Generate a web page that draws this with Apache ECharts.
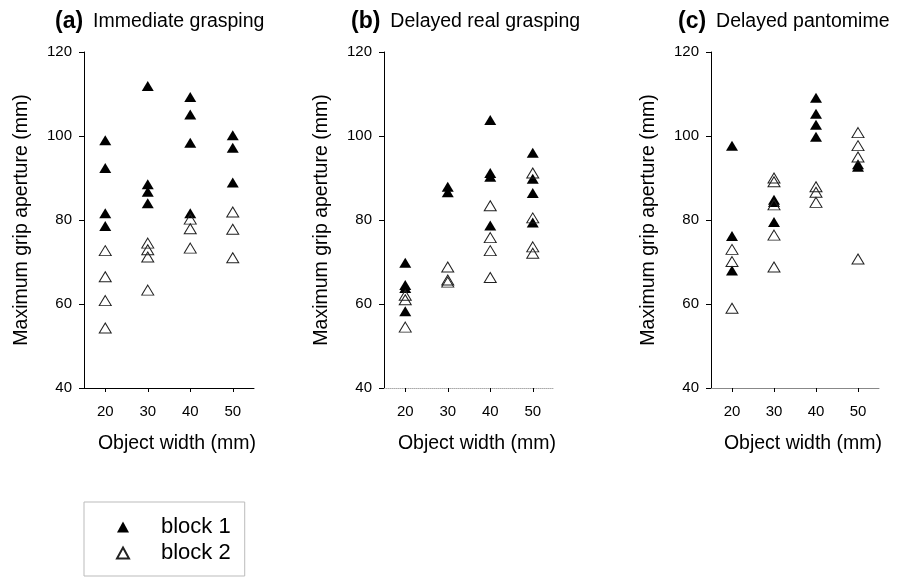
<!DOCTYPE html>
<html style="height: 100%">
<head>
    <meta charset="utf-8">
</head>
<body style="height: 100%; margin: 0; background: #fff">
<div id="container" style="width: 900px; height: 578px"></div>
<script type="text/javascript" src="https://cdn.jsdelivr.net/npm/echarts@6/dist/echarts.min.js"></script>
<script type="text/javascript">

    // object widths (mm) and tick values
    var widths = [20, 30, 40, 50];
    var yTicks = [40, 60, 80, 100, 120];

    var panelTitles = ['(a)', '(b)', '(c)'];
    var panelNames = ['Immediate grasping', 'Delayed real grasping', 'Delayed pantomime'];

    // [object width, max grip aperture]
    var immediateBlock1 = [
        [20, 99], [20, 92.4], [20, 81.6], [20, 78.6],
        [30, 111.9], [30, 88.5], [30, 86.7], [30, 84],
        [40, 109.3], [40, 105.1], [40, 98.4], [40, 81.6],
        [50, 100.2], [50, 97.2], [50, 88.9]
    ];
    var immediateBlock2 = [
        [20, 72.7], [20, 66.5], [20, 60.8], [20, 54.3],
        [30, 74.5], [30, 72.9], [30, 71.2], [30, 63.3],
        [40, 80.2], [40, 77.9], [40, 73.3],
        [50, 81.9], [50, 77.8], [50, 71]
    ];
    var delayedBlock1 = [
        [20, 69.8], [20, 64.5], [20, 63.8], [20, 58.3],
        [30, 87.9], [30, 86.6],
        [40, 103.8], [40, 91.2], [40, 90.3], [40, 78.7],
        [50, 96], [50, 89.8], [50, 86.4], [50, 79.4]
    ];
    var delayedBlock2 = [
        [20, 62.1], [20, 61], [20, 54.5],
        [30, 68.8], [30, 65.7], [30, 65.2],
        [40, 83.4], [40, 75.8], [40, 72.7], [40, 66.3],
        [50, 91.2], [50, 80.5], [50, 73.6], [50, 72.1]
    ];
    var pantomimeBlock1 = [
        [20, 97.7], [20, 76.2], [20, 68],
        [30, 84.8], [30, 84.3], [30, 79.5],
        [40, 109.1], [40, 105.3], [40, 102.7], [40, 99.8],
        [50, 93.3], [50, 92.7]
    ];
    var pantomimeBlock2 = [
        [20, 73], [20, 70.1], [20, 59],
        [30, 90], [30, 89.1], [30, 83.6], [30, 76.4], [30, 68.8],
        [40, 87.9], [40, 86.6], [40, 84.2],
        [50, 100.8], [50, 97.7], [50, 95], [50, 70.7]
    ];

    var block1 = [immediateBlock1, delayedBlock1, pantomimeBlock1];
    var block2 = [immediateBlock2, delayedBlock2, pantomimeBlock2];

    var dom = document.getElementById("container");
    var myChart = echarts.init(dom);
    var font = 'Liberation Sans, Arial, sans-serif';

    var grids = [
        {left: 84, top: 52, width: 170, height: 336},
        {left: 384, top: 52, width: 170, height: 336},
        {left: 711, top: 52, width: 168, height: 336}
    ];
    var titleLeft = [50, 346, 673];
    var xLineStyle = [
        {color: '#000', width: 1, type: 'solid'},
        {color: '#aaa', width: 1, type: 'dotted'},
        {color: '#888', width: 1, type: 'solid'}
    ];

    var xAxes = [], yAxes = [], titles = [], series = [];
    for (var i = 0; i < 3; i++) {
        titles.push({
            left: titleLeft[i],
            top: 5,
            text: '{b|' + panelTitles[i] + '}  {n|' + panelNames[i] + '}',
            textStyle: {
                fontWeight: 'normal',
                rich: {
                    b: {fontFamily: font, fontSize: 23, fontWeight: 'bold', color: '#000'},
                    n: {fontFamily: font, fontSize: 19.5, fontWeight: 'normal', color: '#000'}
                }
            }
        });
        xAxes.push({
            gridIndex: i,
            type: 'value',
            min: 15,
            max: 55,
            interval: 5,
            name: 'Object width (mm)',
            nameLocation: 'middle',
            nameGap: 46,
            nameTextStyle: {fontFamily: font, fontSize: 19.5, color: '#000', padding: [0, 0, 0, 16]},
            splitLine: {show: false},
            axisLine: {lineStyle: xLineStyle[i]},
            axisTick: {
                length: 4,
                lineStyle: {color: '#000'},
                customValues: widths
            },
            axisLabel: {
                margin: 16,
                fontFamily: font, fontSize: 15, color: '#000',
                customValues: widths
            }
        });
        yAxes.push({
            gridIndex: i,
            type: 'value',
            min: 40,
            max: 120,
            interval: 20,
            name: 'Maximum grip aperture (mm)',
            nameLocation: 'middle',
            nameGap: 52,
            nameTextStyle: {fontFamily: font, fontSize: 19.5, color: '#000'},
            splitLine: {show: false},
            axisLine: {lineStyle: {color: '#000', width: 1}},
            axisTick: {length: 5, lineStyle: {color: '#000'}, customValues: yTicks},
            axisLabel: {
                margin: 12,
                fontFamily: font, fontSize: 15, color: '#000',
                customValues: yTicks
            }
        });
        series.push({
            name: 'block 1',
            type: 'scatter',
            xAxisIndex: i,
            yAxisIndex: i,
            symbol: 'triangle',
            symbolSize: [12, 10],
            itemStyle: {color: '#000', opacity: 1},
            data: block1[i]
        });
        series.push({
            name: 'block 2',
            type: 'scatter',
            xAxisIndex: i,
            yAxisIndex: i,
            symbol: 'triangle',
            symbolSize: [12, 10],
            itemStyle: {color: 'rgba(255,255,255,0)', borderColor: '#222', borderWidth: 1, opacity: 1},
            data: block2[i]
        });
    }

    option = {
        backgroundColor: '#fff',
        animation: false,
        title: titles,
        legend: {
            data: ['block 1', 'block 2'],
            orient: 'vertical',
            left: 84,
            top: 502,
            itemWidth: 12,
            itemHeight: 11,
            itemGap: 4,
            padding: [14, 14, 12, 32],
            borderColor: '#bbb',
            borderWidth: 1,
            textStyle: {fontFamily: font, fontSize: 22, color: '#000', padding: [0, 0, 0, 27]}
        },
        grid: grids,
        xAxis: xAxes,
        yAxis: yAxes,
        series: series
    };

    if (option && typeof option === "object") {
        myChart.setOption(option, true);
    }

</script>
</body>
</html>
